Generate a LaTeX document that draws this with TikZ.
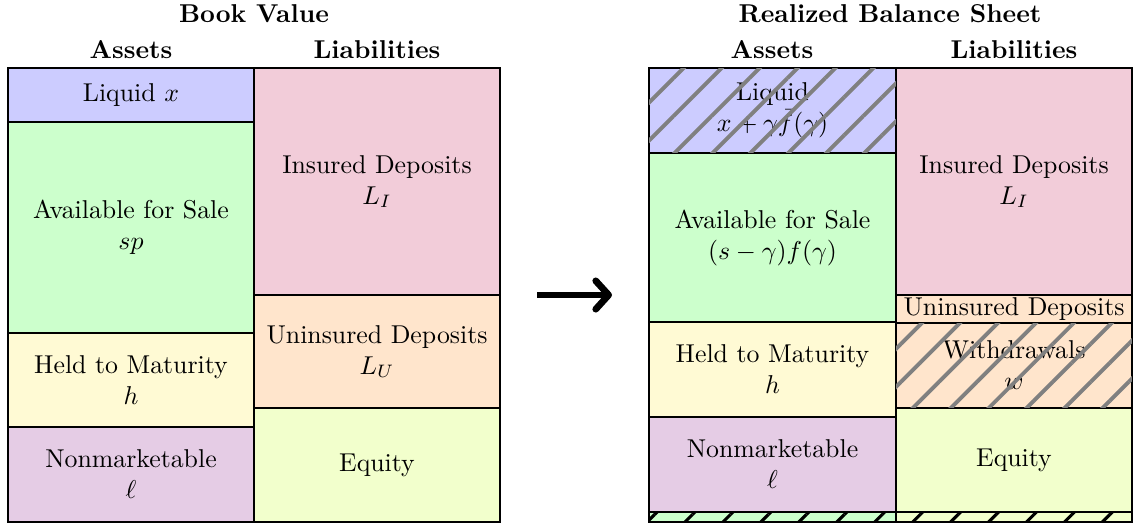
\documentclass[tikz,border=0pt]{standalone}
\usetikzlibrary{patterns.meta,arrows.meta}
\definecolor{htmcol}{RGB}{255,250,212}
\newcommand{\sheetbox}[7]{%
  \node[box,fill=#6,minimum width={(#3-#1)*0.3876pt},minimum height={(#4-#2)*0.3876pt}]
    (#5) at ({(#1+#3)/2},{(#2+#4)/2}) {#7};}
\begin{document}
\begin{tikzpicture}[x=0.3876pt,y=-0.3876pt,
  box/.style={draw=black,line width=0.5pt,inner sep=0pt,align=center,font=\normalsize},
  head/.style={font=\bfseries,inner sep=0pt},
  hatchgray/.style={pattern={Lines[angle=45,distance=10.4pt,line width=1.5pt]},pattern color=gray},
  hatchblack/.style={pattern={Lines[angle=45,distance=10.4pt,line width=1.2pt]},pattern color=black},
  bigarrow/.style={line width=2.6pt,-{Straight Barb[length=5pt,width=11pt,line cap=round,round]}}]
\useasboundingbox (0,0) rectangle (1134,524);
% headings
\node[head] (bvt) at (254,14) {Book Value};
\node[head] (bva) at (131,50) {Assets};
\node[head] (bvl) at (377,50) {Liabilities};
\node[head] (rbt) at (890,14) {Realized Balance Sheet};
\node[head] (rba) at (772,50) {Assets};
\node[head] (rbl) at (1014,50) {Liabilities};
% book value assets
\sheetbox{8}{68}{254}{122}{bliq}{blue!20}{Liquid $x$}
\sheetbox{8}{122}{254}{333}{bafs}{green!20}{Available for Sale\\ $sp$}
\sheetbox{8}{333}{254}{427}{bhtm}{htmcol}{Held to Maturity\\ $h$}
\sheetbox{8}{427}{254}{522}{bnm}{violet!20}{Nonmarketable\\ $\ell$}
% book value liabilities
\sheetbox{254}{68}{500}{295}{bins}{purple!20}{Insured Deposits\\ $L_I$}
\sheetbox{254}{295}{500}{408}{buni}{orange!20}{Uninsured Deposits\\ $L_U$}
\sheetbox{254}{408}{500}{522}{beq}{lime!20}{Equity}
% arrow
\coordinate (arS) at (537,295);
\coordinate (arE) at (612,295);
\draw[bigarrow] (arS) -- (arE);
% realized assets
\sheetbox{649}{68}{896}{153}{rliq}{blue!20}{Liquid\\ $x+\gamma\bar f(\gamma)$}
\sheetbox{649}{153}{896}{322}{rafs}{green!20}{Available for Sale\\ $(s-\gamma)f(\gamma)$}
\sheetbox{649}{322}{896}{417}{rhtm}{htmcol}{Held to Maturity\\ $h$}
\sheetbox{649}{417}{896}{512}{rnm}{violet!20}{Nonmarketable\\ $\ell$}
\sheetbox{649}{512}{896}{522}{rstripa}{green!20}{}
% realized liabilities
\sheetbox{896}{68}{1132}{295}{rins}{purple!20}{Insured Deposits\\ $L_I$}
\sheetbox{896}{295}{1132}{323}{runi}{orange!20}{Uninsured Deposits}
\sheetbox{896}{323}{1132}{408}{rwd}{orange!20}{Withdrawals\\ $w$}
\sheetbox{896}{408}{1132}{512}{req}{lime!20}{Equity}
\sheetbox{896}{512}{1132}{522}{rstripl}{lime!20}{}
% hatching
\path[hatchgray] (rliq.north west) rectangle (rliq.south east);
\path[hatchgray] (rwd.north west) rectangle (rwd.south east);
\path[hatchblack] (rstripa.north west) rectangle (rstripa.south east);
\path[hatchblack] (rstripl.north west) rectangle (rstripl.south east);
% redraw borders of hatched boxes
\draw[line width=0.5pt] (rliq.north west) rectangle (rliq.south east);
\draw[line width=0.5pt] (rwd.north west) rectangle (rwd.south east);
\draw[line width=0.5pt] (rstripa.north west) rectangle (rstripa.south east);
\draw[line width=0.5pt] (rstripl.north west) rectangle (rstripl.south east);
\end{tikzpicture}
\end{document}
